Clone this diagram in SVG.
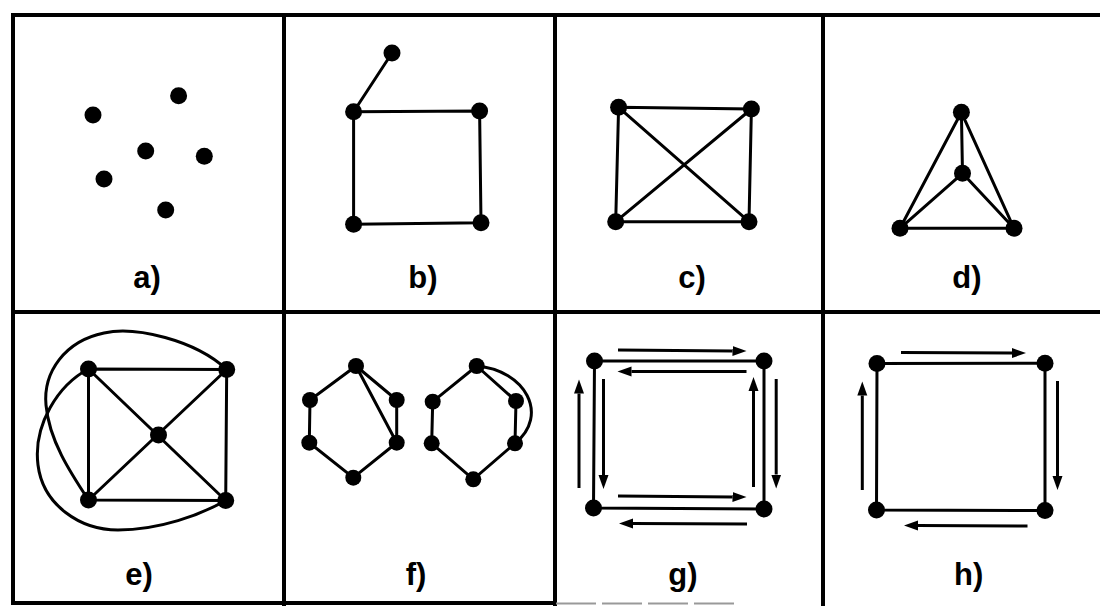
<svg xmlns="http://www.w3.org/2000/svg" width="1100" height="606" viewBox="0 0 1100 606">
<style>
.grid{stroke:#000;stroke-width:4;fill:none}
.e{stroke:#000;stroke-width:3;fill:none;stroke-linecap:round}
.n{fill:#000}
.a{stroke:#000;stroke-width:3;fill:none;marker-end:url(#ah)}
.lbl{font-family:"Liberation Sans",Arial,sans-serif;font-weight:bold;font-size:31px;fill:#000;text-anchor:middle}
</style>
<defs>
<marker id="ah" markerUnits="userSpaceOnUse" markerWidth="16" markerHeight="12" viewBox="0 -6 16 12" refX="0" refY="0" orient="auto">
<path d="M0,-5 L14,0 L0,5 Z" fill="#000"/>
</marker>
</defs>
<rect width="1100" height="606" fill="#fff"/>
<g id="table">
<path class="grid" d="M11,15 H1100" stroke-width="5.5"/>
<path class="grid" d="M13,13 V605" stroke-width="5"/>
<path class="grid" d="M284,15 V606"/>
<path class="grid" d="M555,15 V606"/>
<path class="grid" d="M823,15 V606"/>
<path class="grid" d="M11,312 H1100"/>
<path class="grid" d="M11,603 H556"/>
<path d="M556,603.5 H735" stroke="#999" stroke-width="2" stroke-dasharray="40 6" fill="none"/>
</g>

<g id="panel-a">
<circle id="a1" class="n" cx="93" cy="115" r="8.5"/>
<circle id="a2" class="n" cx="178.6" cy="95.7" r="8.5"/>
<circle id="a3" class="n" cx="145.7" cy="151" r="8.5"/>
<circle id="a4" class="n" cx="204.3" cy="156.3" r="8.5"/>
<circle id="a5" class="n" cx="104" cy="179" r="8.5"/>
<circle id="a6" class="n" cx="165.7" cy="210" r="8.5"/>
<text class="lbl" x="147" y="288">a)</text>
</g>

<g id="panel-b">
<g id="b-edges">
<path class="e" d="M392,53 L353.6,111.7"/>
<path class="e" d="M353.6,111.7 L479.6,111 L481,222.7 L353.6,224.3 Z"/>
</g>
<circle id="b1" class="n" cx="392" cy="53" r="8.5"/>
<circle id="b2" class="n" cx="353.6" cy="111.7" r="8.5"/>
<circle id="b3" class="n" cx="479.6" cy="111" r="8.5"/>
<circle id="b4" class="n" cx="353.6" cy="224.3" r="8.5"/>
<circle id="b5" class="n" cx="481" cy="222.7" r="8.5"/>
<text class="lbl" x="423" y="288">b)</text>
</g>

<g id="panel-c">
<g id="c-edges">
<path class="e" d="M618.6,107.3 L751.4,109 L749,221.7 L615.7,221.7 Z"/>
<path class="e" d="M618.6,107.3 L749,221.7 M751.4,109 L615.7,221.7"/>
</g>
<circle id="c1" class="n" cx="618.6" cy="107.3" r="8.5"/>
<circle id="c2" class="n" cx="751.4" cy="109" r="8.5"/>
<circle id="c3" class="n" cx="615.7" cy="221.7" r="8.5"/>
<circle id="c4" class="n" cx="749" cy="221.7" r="8.5"/>
<text class="lbl" x="692" y="288">c)</text>
</g>

<g id="panel-d">
<g id="d-edges">
<path class="e" d="M961.4,112.3 L962.5,173.3 M961.4,112.3 L900,228.3 M961.4,112.3 L1014,228.3 M962.5,173.3 L900,228.3 M962.5,173.3 L1014,228.3 M900,228.3 L1014,228.3"/>
</g>
<circle id="d1" class="n" cx="961.4" cy="112.3" r="8.5"/>
<circle id="d2" class="n" cx="962.5" cy="173.3" r="8.5"/>
<circle id="d3" class="n" cx="900" cy="228.3" r="8.5"/>
<circle id="d4" class="n" cx="1014" cy="228.3" r="8.5"/>
<text class="lbl" x="967" y="288">d)</text>
</g>

<g id="panel-e">
<g id="e-edges">
<path class="e" d="M88.5,369 L226.7,369.5 L225.7,500.5 L88.5,500 Z"/>
<path class="e" d="M88.5,369 L225.7,500.5 M226.7,369.5 L88.5,500"/>
<path class="e" d="M226.7,369.5 C195,340 135,326 104,333 C65,341 43,372 46,405 C49,440 70,472 88.5,500"/>
<path class="e" d="M88.5,369 C58,385 33,425 38,465 C43,505 80,530 118,530 C160,530 200,515 225.7,500.5"/>
</g>
<circle id="e1" class="n" cx="88.5" cy="369" r="8.5"/>
<circle id="e2" class="n" cx="226.7" cy="369.5" r="8.5"/>
<circle id="e3" class="n" cx="158.5" cy="435" r="8.5"/>
<circle id="e4" class="n" cx="88.5" cy="500" r="8.5"/>
<circle id="e5" class="n" cx="225.7" cy="500.5" r="8.5"/>
<text class="lbl" x="139" y="585">e)</text>
</g>

<g id="panel-f">
<g id="f-edges">
<path class="e" d="M356,366 L396.7,400 L396.7,442.7 L353.3,477.7 L309.3,442.7 L310,400 Z"/>
<path class="e" d="M356,366 L396.7,442.7"/>
<path class="e" d="M476.7,366 L516,401 L515,443.3 L473.3,479.3 L431.7,443.3 L432.7,401.7 Z"/>
<path class="e" d="M476.7,366 C525,370 550,415 515,443.3"/>
</g>
<circle id="f1" class="n" cx="356" cy="366" r="8"/>
<circle id="f2" class="n" cx="396.7" cy="400" r="8"/>
<circle id="f3" class="n" cx="396.7" cy="442.7" r="8"/>
<circle id="f4" class="n" cx="353.3" cy="477.7" r="8"/>
<circle id="f5" class="n" cx="309.3" cy="442.7" r="8"/>
<circle id="f6" class="n" cx="310" cy="400" r="8"/>
<circle id="f7" class="n" cx="476.7" cy="366" r="8"/>
<circle id="f8" class="n" cx="516" cy="401" r="8"/>
<circle id="f9" class="n" cx="515" cy="443.3" r="8"/>
<circle id="f10" class="n" cx="473.3" cy="479.3" r="8"/>
<circle id="f11" class="n" cx="431.7" cy="443.3" r="8"/>
<circle id="f12" class="n" cx="432.7" cy="401.7" r="8"/>
<text class="lbl" x="416" y="585">f)</text>
</g>

<g id="panel-g">
<g id="g-edges">
<path class="e" d="M594.5,361 L764,361 L764,509 L593.5,508 Z"/>
<path class="a" d="M618,350 L732.5,351"/>
<path class="a" d="M746.5,371.5 L631.5,371.5"/>
<path class="a" d="M618,496 L732.5,497"/>
<path class="a" d="M747,524 L633,523.5"/>
<path class="a" d="M579,488 L579,393.5"/>
<path class="a" d="M603.5,379 L603.5,475"/>
<path class="a" d="M753.5,487 L753.5,391"/>
<path class="a" d="M776.2,379 L776.2,474.5"/>
</g>
<circle id="g1" class="n" cx="594.5" cy="361" r="8.5"/>
<circle id="g2" class="n" cx="764" cy="361" r="8.5"/>
<circle id="g3" class="n" cx="593.5" cy="508" r="8.5"/>
<circle id="g4" class="n" cx="764" cy="509" r="8.5"/>
<text class="lbl" x="683" y="585">g)</text>
</g>

<g id="panel-h">
<g id="h-edges">
<path class="e" d="M877,363.5 L1045,363.3 L1045,510.5 L876.5,510 Z"/>
<path class="a" d="M901,352.5 L1012,353"/>
<path class="a" d="M1057.5,381 L1057.5,476"/>
<path class="a" d="M1027.5,526 L918,525.5"/>
<path class="a" d="M862.3,490 L862.3,395.5"/>
</g>
<circle id="h1" class="n" cx="877" cy="363.5" r="8.5"/>
<circle id="h2" class="n" cx="1045" cy="363.3" r="8.5"/>
<circle id="h3" class="n" cx="876.5" cy="510" r="8.5"/>
<circle id="h4" class="n" cx="1045" cy="510.5" r="8.5"/>
<text class="lbl" x="968.6" y="585">h)</text>
</g>
</svg>
